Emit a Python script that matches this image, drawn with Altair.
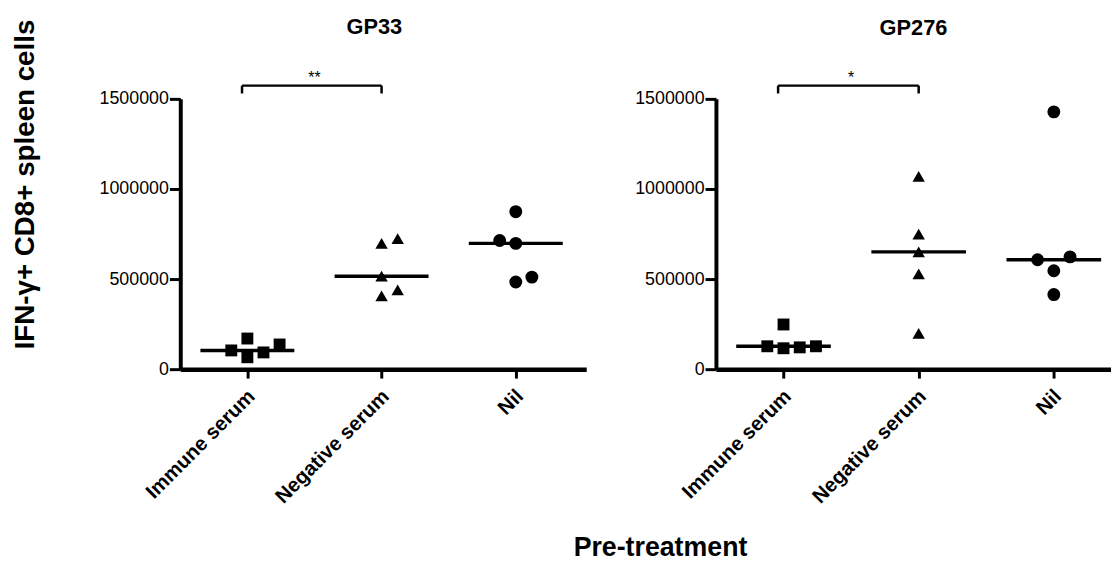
import json
import altair as alt
import numpy as np
import pandas as pd

FONT = "Liberation Sans"

# ---- data ----
groups = ["Immune serum", "Negative serum", "Nil"]
shapes = ["square", "triangle-up", "circle"]
panels = ["GP33", "GP276"]

gp33_immune = [104000, 170000, 66000, 93000, 137000]
gp33_negative = [698000, 725000, 516000, 440000, 407000]
gp33_nil = [874000, 714000, 698000, 484000, 511000]

gp276_immune = [248000, 127000, 116000, 121000, 127000]
gp276_negative = [1070000, 750000, 651000, 529000, 199000]
gp276_nil = [1428000, 607000, 623000, 546000, 414000]

# column-scatter slot of each point (side-by-side placement of close values)
gp33_immune_slot = [-1, 0, 0, 1, 2]
gp33_negative_slot = [0, 1, 0, 1, 0]
gp33_nil_slot = [0, -1, 0, 0, 1]
gp276_immune_slot = [0, -1, 0, 1, 2]
gp276_negative_slot = [0, 0, 0, 0, 0]
gp276_nil_slot = [0, -1, 1, 0, 0]

# significance between Immune serum and Negative serum
significance = {"GP33": "**", "GP276": "*"}

y_ticks = [0, 500000, 1000000, 1500000]
y_title = "IFN-γ+ CD8+ spleen cells"
x_title = "Pre-treatment"

SLOT = 0.12
HALF = 0.35
YMAX = 1500000


def make_panel(name, values, slots, sig, width, xmax, first):
    rows = []
    for g, (vals, sl) in enumerate(zip(values, slots)):
        for v, s in zip(vals, sl):
            rows.append({"group": groups[g], "x": g + s * SLOT, "value": v})
    df = pd.DataFrame(rows)
    med = pd.DataFrame([
        {"group": groups[g], "x1": g - HALF, "x2": g + HALF,
         "median": float(np.median(vals))}
        for g, vals in enumerate(values)
    ])
    by = YMAX * 1.049
    leg = YMAX * 0.029
    br = pd.DataFrame([
        {"x1": -0.04, "x2": 1.0, "y1": by, "y2": by},
        {"x1": -0.04, "x2": -0.04, "y1": by - leg, "y2": by},
        {"x1": 1.0, "x2": 1.0, "y1": by - leg, "y2": by},
    ])
    star = pd.DataFrame([{"x": 0.5, "y": YMAX * 1.06, "t": sig}])

    xscale = alt.Scale(domain=[-0.5, xmax], nice=False, zero=False)
    yscale = alt.Scale(domain=[0, YMAX], nice=False)

    xaxis = alt.Axis(
        values=[0, 1, 2],
        labelExpr=json.dumps(groups) + "[datum.value]",
        labelAngle=-45, labelAlign="right", labelBaseline="middle",
        labelFontSize=20.5, labelFontWeight="bold", labelFont=FONT,
        labelColor="black", labelPadding=15, labelOffset=4,
        tickSize=9, tickWidth=3, tickColor="black",
        domainWidth=4.5, domainColor="black", grid=False, title=None,
    )
    yargs = dict(
        values=y_ticks, format="d",
        labelFontSize=18, labelFont=FONT, labelColor="black", labelPadding=1,
        tickSize=11, tickWidth=3, tickColor="black",
        domainWidth=4, domainColor="black", grid=False,
    )
    if first:
        yaxis = alt.Axis(
            title=y_title, titleFontSize=28, titleFontWeight="bold",
            titleFont=FONT, titleColor="black", titleAngle=270,
            titleX=-156, titleY=86, titleAlign="center", titleBaseline="middle",
            **yargs,
        )
    else:
        yaxis = alt.Axis(title=None, **yargs)

    X = lambda f: alt.X(f, scale=xscale, axis=xaxis)
    Y = lambda f: alt.Y(f, scale=yscale, axis=yaxis)

    pts = alt.Chart(df).mark_point(filled=True, opacity=1, color="black").encode(
        x=X("x:Q"), y=Y("value:Q"),
        shape=alt.Shape("group:N", scale=alt.Scale(domain=groups, range=shapes), legend=None),
        size=alt.Size("group:N", scale=alt.Scale(domain=groups, range=[144, 170, 121]), legend=None),
    )
    medians = alt.Chart(med).mark_rule(color="black", strokeWidth=3.5).encode(
        x=X("x1:Q"), x2="x2:Q", y=Y("median:Q"),
    )
    brackets = alt.Chart(br).mark_rule(color="black", strokeWidth=2.5).encode(
        x=X("x1:Q"), x2="x2:Q", y=Y("y1:Q"), y2="y2:Q",
    )
    stars = alt.Chart(star).mark_text(
        fontSize=16, font=FONT, color="black", baseline="alphabetic", align="center"
    ).encode(x=X("x:Q"), y=Y("y:Q"), text="t:N")

    return alt.layer(pts, medians, brackets, stars).properties(
        width=width, height=273,
        title=alt.TitleParams(
            name, fontSize=22, fontWeight="bold", font=FONT, color="black",
            anchor="middle", frame="group", dx=-9 if first else 0,
            offset=-19.5 if first else 30,
        ),
    )


left = make_panel("GP33", [gp33_immune, gp33_negative, gp33_nil],
                  [gp33_immune_slot, gp33_negative_slot, gp33_nil_slot],
                  significance["GP33"], 410, 2.525, True)
right = make_panel("GP276", [gp276_immune, gp276_negative, gp276_nil],
                   [gp276_immune_slot, gp276_negative_slot, gp276_nil_slot],
                   significance["GP276"], 399, 2.423, False)

chart = alt.hconcat(left, right, spacing=48).properties(
    title=alt.TitleParams(
        x_title, orient="bottom", anchor="middle", fontSize=27,
        fontWeight="bold", font=FONT, color="black", dx=100, offset=28,
    ),
    padding={"left": 3, "top": 4, "right": 0, "bottom": 0},
    background="white",
).configure_view(stroke=None)

chart.save("out.html", embed_options={"renderer": "svg", "actions": False})
